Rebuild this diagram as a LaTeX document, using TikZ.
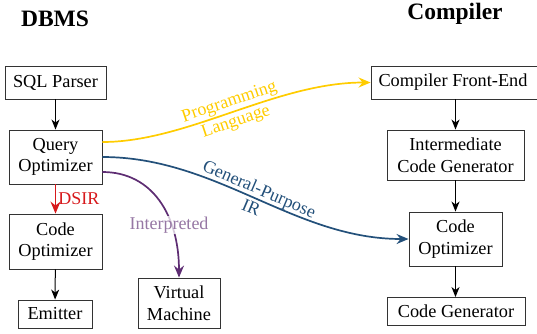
\documentclass[tikz,border=0pt]{standalone}
\usepackage{fontspec}
\setmainfont{Liberation Serif}
\usetikzlibrary{arrows.meta}
\definecolor{plyellow}{HTML}{FFCC00}
\definecolor{irblue}{HTML}{23507A}
\definecolor{vmpurple}{HTML}{5E2D73}
\definecolor{dsired}{HTML}{D7191C}
\definecolor{boxgray}{HTML}{333333}
\tikzset{
  stage/.style={draw=boxgray, line width=0.9pt, align=center, inner sep=0pt,
    font=\fontsize{18.3}{21.5}\selectfont},
  heading/.style={font=\fontsize{23.5}{27}\selectfont\bfseries},
  flow/.style={-{Stealth[length=10pt,width=8pt,inset=3pt]}, line width=1pt},
  route/.style={-{Stealth[length=12pt,width=10pt,inset=4pt]}, line width=1.7pt},
  lbl/.style={font=\fontsize{18}{20.5}\selectfont, align=center, inner sep=1pt}
}
\begin{document}
\begin{tikzpicture}[x=1pt, y=-1pt]
\useasboundingbox (0,0) rectangle (537,333);

% column headings
\node[heading] (hdbms) at (55,19) {DBMS};
\node[heading] (hcomp) at (455,14) {Compiler};

% DBMS pipeline
\node[stage, minimum width=101pt, minimum height=33pt] (sql) at (55.5,82.5) {SQL Parser};
\node[stage, minimum width=93pt, minimum height=54pt] (qo) at (55.5,157) {Query\\Optimizer};
\node[stage, minimum width=93pt, minimum height=55pt] (co1) at (55.5,241.5) {Code\\Optimizer};
\node[stage, minimum width=74pt, minimum height=28pt] (emit) at (55,314) {Emitter};
\node[stage, minimum width=82pt, minimum height=50pt] (vm) at (179,303) {Virtual\\Machine};

% compiler pipeline
\node[stage, minimum width=170pt, minimum height=33pt] (cfe) at (456,82.5) {\hspace*{-6pt}Compiler Front-End};
\node[stage, minimum width=137pt, minimum height=50pt] (icg) at (455.5,155) {Intermediate\\Code Generator};
\node[stage, minimum width=93pt, minimum height=54pt] (co2) at (455.5,239) {Code\\Optimizer};
\node[stage, minimum width=138pt, minimum height=28pt] (cg) at (456,311.5) {Code Generator};

% straight stage-to-stage arrows
\draw[flow] (sql) -- (qo);
\draw[flow] (co1) -- (emit);
\draw[flow] (icg.north |- cfe.south) -- (icg.north);
\draw[flow] (icg) -- (co2);
\draw[flow] (co2.south) -- (co2.south |- cg.north);
\draw[route, draw=dsired, fill=dsired, line width=1.6pt] (qo) --
  node[right, lbl, text=dsired, inner sep=2pt] {DSIR} (co1);

% cross-over routes
\draw[route, plyellow] ([yshift=15pt]qo.east) .. controls +(85,0) and +(-95,0) .. (cfe.west)
  node[pos=0.5, sloped, lbl, text=plyellow] {Programming\\Language};
\draw[route, irblue] (qo.east) .. controls +(115,0) and +(-115,0) .. (co2.west)
  node[pos=0.5, sloped, lbl, text=irblue] {General-Purpose\\IR};
\draw[route, vmpurple] ([yshift=-15pt]qo.east) .. controls +(50,0) and +(0,-62) .. (vm.north);
\node[lbl, fill=white, fill opacity=0.75, text opacity=1, text=vmpurple!65] (interp) at (169,225) {Interpreted};
\end{tikzpicture}
\end{document}
